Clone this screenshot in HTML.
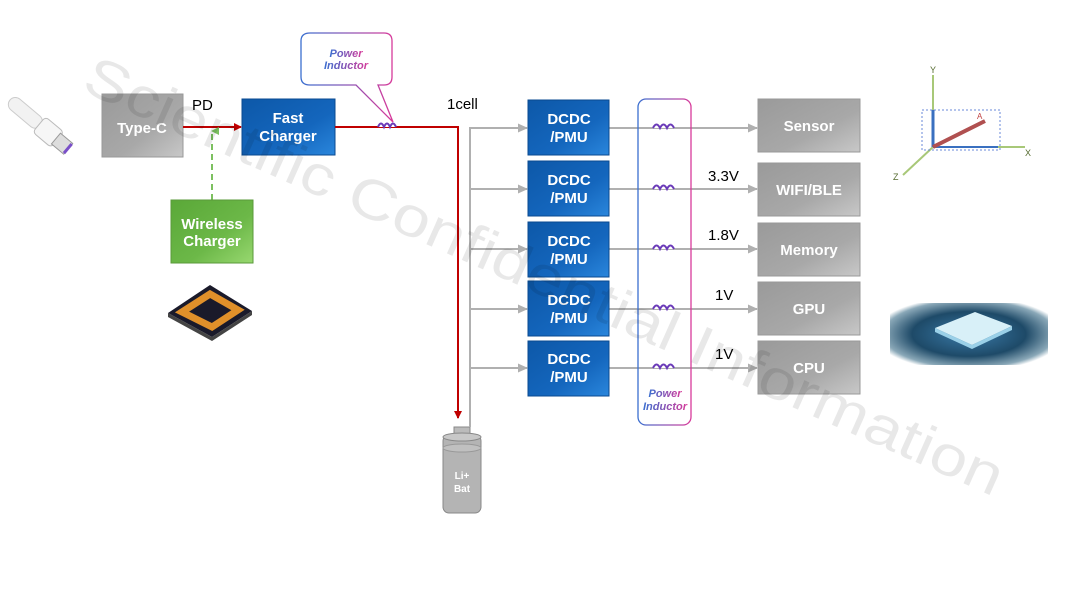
<!DOCTYPE html>
<html><head><meta charset="utf-8"><style>
body{margin:0;width:1080px;height:595px;background:#fff;overflow:hidden}
</style></head><body>
<svg width="1080" height="595" viewBox="0 0 1080 595" xmlns="http://www.w3.org/2000/svg" font-family="Liberation Sans, sans-serif">
<defs>
<linearGradient id="gb" x1="0" y1="0" x2="1" y2="1"><stop offset="0" stop-color="#0d58a8"/><stop offset="0.6" stop-color="#1466bd"/><stop offset="1" stop-color="#2a86dc"/></linearGradient>
<linearGradient id="gg" x1="0" y1="0" x2="1" y2="1"><stop offset="0" stop-color="#9a9a9a"/><stop offset="0.6" stop-color="#a8a8a8"/><stop offset="1" stop-color="#c8c8c8"/></linearGradient>
<linearGradient id="gn" x1="0" y1="0" x2="1" y2="1"><stop offset="0" stop-color="#5aa838"/><stop offset="0.6" stop-color="#6cb848"/><stop offset="1" stop-color="#98d870"/></linearGradient>
<linearGradient id="pi" x1="0" y1="0" x2="1" y2="0"><stop offset="0" stop-color="#3a6fd0"/><stop offset="1" stop-color="#d83a9a"/></linearGradient>
<radialGradient id="cpu" cx="0.5" cy="0.5" r="0.6"><stop offset="0" stop-color="#3a7aa8"/><stop offset="0.6" stop-color="#1e4a68"/><stop offset="0.9" stop-color="#8aa8b8"/><stop offset="1" stop-color="#fff"/></radialGradient>
<marker id="ar" markerWidth="8" markerHeight="8" refX="7" refY="4" orient="auto" markerUnits="userSpaceOnUse"><path d="M0,0L8,4L0,8z" fill="#c00000"/></marker>
<marker id="ag" markerWidth="10" markerHeight="9" refX="9" refY="4.5" orient="auto" markerUnits="userSpaceOnUse"><path d="M0,0L10,4.5L0,9z" fill="#b0b0b0"/></marker>
<marker id="an" markerWidth="8" markerHeight="8" refX="4" refY="1" orient="auto" markerUnits="userSpaceOnUse"><path d="M0,8L4,0L8,8z" fill="#7cc060"/></marker>
</defs>

<!-- USB cable -->
<g transform="translate(10,100) rotate(40)">
<rect x="0" y="-7" width="40" height="14" rx="7" fill="#f2f2f2" stroke="#ccc"/>
<rect x="38" y="-10" width="24" height="20" rx="4" fill="#f6f6f6" stroke="#bbb"/>
<rect x="60" y="-7" width="16" height="14" fill="#ddd" stroke="#999"/>
<rect x="74" y="-6" width="3" height="12" fill="#7a4fc8"/>
</g>

<!-- Type-C -->
<rect x="102" y="94" width="81" height="63" fill="url(#gg)" stroke="#999"/>
<text x="142" y="133" text-anchor="middle" fill="#fff" font-size="15" font-weight="bold">Type-C</text>
<text x="192" y="110" font-size="15">PD</text>

<line x1="183" y1="127" x2="241" y2="127" stroke="#c00000" stroke-width="2" marker-end="url(#ar)"/>
<line x1="212" y1="200" x2="212" y2="131" stroke="#7cc060" stroke-width="2" stroke-dasharray="6,4" marker-end="url(#an)"/>

<rect x="242" y="99" width="93" height="56" fill="url(#gb)" stroke="#0a4a90"/>
<text x="288" y="123" text-anchor="middle" fill="#fff" font-size="15" font-weight="bold">Fast</text>
<text x="288" y="141" text-anchor="middle" fill="#fff" font-size="15" font-weight="bold">Charger</text>

<rect x="171" y="200" width="82" height="63" fill="url(#gn)" stroke="#5a9a3a"/>
<text x="212" y="229" text-anchor="middle" fill="#fff" font-size="15" font-weight="bold">Wireless</text>
<text x="212" y="246" text-anchor="middle" fill="#fff" font-size="15" font-weight="bold">Charger</text>

<!-- wireless coil -->
<g transform="translate(210,305)">
<path d="M-42,8 L0,-20 L42,6 L2,32 Z" fill="#1a1a2a"/>
<path d="M-42,8 L2,32 L42,6 L42,10 L2,36 L-42,12Z" fill="#444"/>
<path d="M-28,7 L0,-11 L28,5 L2,22 Z" fill="none" stroke="#e0902a" stroke-width="7"/>
<path d="M-14,7 L0,-2 L14,5 L2,12 Z" fill="#1a1a2a"/>
</g>

<!-- red path -->
<path d="M335,127 H458 V418" fill="none" stroke="#c00000" stroke-width="2" marker-end="url(#ar)"/>
<path d="M378,127 q3,-7 6,0 q3,-7 6,0 q3,-7 6,0" fill="#fff" stroke="#6a3ab8" stroke-width="2"/>
<!-- callout -->
<path d="M310,33 H384 Q392,33 392,41 V77 Q392,85 384,85 H378 L393,122 L356,85 H310 Q301,85 301,77 V41 Q301,33 310,33Z" fill="#fff" stroke="url(#pi)" stroke-width="1.3"/>
<text x="346" y="57" text-anchor="middle" font-size="11" font-weight="bold" font-style="italic" fill="url(#pi)">Power</text>
<text x="346" y="69" text-anchor="middle" font-size="11" font-weight="bold" font-style="italic" fill="url(#pi)">Inductor</text>
<text x="447" y="109" font-size="15">1cell</text>

<!-- battery -->
<rect x="454" y="427" width="16" height="10" fill="#bbb" stroke="#888"/>
<rect x="443" y="435" width="38" height="78" rx="6" fill="#b4b4b4" stroke="#888"/>
<ellipse cx="462" cy="437" rx="19" ry="4" fill="#c8c8c8" stroke="#888"/>
<ellipse cx="462" cy="448" rx="19" ry="4" fill="#c0c0c0" stroke="#999"/>
<text x="462" y="479" text-anchor="middle" fill="#fff" font-size="10" font-weight="bold">Li+</text>
<text x="462" y="492" text-anchor="middle" fill="#fff" font-size="10" font-weight="bold">Bat</text>

<!-- gray bus -->
<line x1="470" y1="127" x2="470" y2="427" stroke="#b0b0b0" stroke-width="2"/>
<g stroke="#b0b0b0" stroke-width="2" fill="none">
<path d="M469,128 H527" marker-end="url(#ag)"/>
<path d="M469,189 H527" marker-end="url(#ag)"/>
<path d="M469,249 H527" marker-end="url(#ag)"/>
<path d="M469,309 H527" marker-end="url(#ag)"/>
<path d="M469,368 H527" marker-end="url(#ag)"/>
<path d="M609,128 H757" marker-end="url(#ag)"/>
<path d="M609,189 H757" marker-end="url(#ag)"/>
<path d="M609,249 H757" marker-end="url(#ag)"/>
<path d="M609,309 H757" marker-end="url(#ag)"/>
<path d="M609,368 H757" marker-end="url(#ag)"/>
</g>

<!-- DCDC -->
<g font-size="15" font-weight="bold" fill="#fff" text-anchor="middle">
<rect x="528" y="100" width="81" height="55" fill="url(#gb)" stroke="#0a4a90"/><text x="569" y="124">DCDC</text><text x="569" y="142">/PMU</text>
<rect x="528" y="161" width="81" height="55" fill="url(#gb)" stroke="#0a4a90"/><text x="569" y="185">DCDC</text><text x="569" y="203">/PMU</text>
<rect x="528" y="222" width="81" height="55" fill="url(#gb)" stroke="#0a4a90"/><text x="569" y="246">DCDC</text><text x="569" y="264">/PMU</text>
<rect x="528" y="281" width="81" height="55" fill="url(#gb)" stroke="#0a4a90"/><text x="569" y="305">DCDC</text><text x="569" y="323">/PMU</text>
<rect x="528" y="341" width="81" height="55" fill="url(#gb)" stroke="#0a4a90"/><text x="569" y="364">DCDC</text><text x="569" y="382">/PMU</text>
</g>

<!-- inductor bank -->
<rect x="638" y="99" width="53" height="326" rx="8" fill="none" stroke="url(#pi)" stroke-width="1.3"/>
<g stroke="#6a3ab8" stroke-width="2" fill="#fff">
<path d="M653,128 q3.5,-7 7,0 q3.5,-7 7,0 q3.5,-7 7,0"/>
<path d="M653,189 q3.5,-7 7,0 q3.5,-7 7,0 q3.5,-7 7,0"/>
<path d="M653,249 q3.5,-7 7,0 q3.5,-7 7,0 q3.5,-7 7,0"/>
<path d="M653,309 q3.5,-7 7,0 q3.5,-7 7,0 q3.5,-7 7,0"/>
<path d="M653,368 q3.5,-7 7,0 q3.5,-7 7,0 q3.5,-7 7,0"/>
</g>
<text x="665" y="397" text-anchor="middle" font-size="11" font-weight="bold" font-style="italic" fill="url(#pi)">Power</text>
<text x="665" y="410" text-anchor="middle" font-size="11" font-weight="bold" font-style="italic" fill="url(#pi)">Inductor</text>

<g font-size="15">
<text x="708" y="181">3.3V</text><text x="708" y="240">1.8V</text><text x="715" y="300">1V</text><text x="715" y="359">1V</text>
</g>

<!-- outputs -->
<g font-size="15" font-weight="bold" fill="#fff" text-anchor="middle">
<rect x="758" y="99" width="102" height="53" fill="url(#gg)" stroke="#999"/><text x="809" y="131">Sensor</text>
<rect x="758" y="163" width="102" height="53" fill="url(#gg)" stroke="#999"/><text x="809" y="195">WIFI/BLE</text>
<rect x="758" y="223" width="102" height="53" fill="url(#gg)" stroke="#999"/><text x="809" y="255">Memory</text>
<rect x="758" y="282" width="102" height="53" fill="url(#gg)" stroke="#999"/><text x="809" y="314">GPU</text>
<rect x="758" y="341" width="102" height="53" fill="url(#gg)" stroke="#999"/><text x="809" y="373">CPU</text>
</g>

<!-- axes -->
<g>
<line x1="933" y1="147" x2="933" y2="75" stroke="#a8c878" stroke-width="2"/>
<line x1="933" y1="147" x2="1025" y2="147" stroke="#a8c878" stroke-width="2"/>
<line x1="933" y1="147" x2="903" y2="175" stroke="#a8c878" stroke-width="2"/>
<rect x="922" y="110" width="78" height="40" fill="none" stroke="#6a8ad8" stroke-dasharray="2,2"/>
<line x1="933" y1="147" x2="933" y2="110" stroke="#3a70c0" stroke-width="3"/>
<line x1="933" y1="147" x2="998" y2="147" stroke="#3a70c0" stroke-width="2"/>
<line x1="933" y1="147" x2="985" y2="121" stroke="#b05050" stroke-width="4"/>
<text x="930" y="73" font-size="9" fill="#556b2f">Y</text>
<text x="1025" y="156" font-size="9" fill="#556b2f">X</text>
<text x="893" y="180" font-size="9" fill="#556b2f">Z</text>
<text x="977" y="119" font-size="8" fill="#c04040">A</text>
</g>

<!-- CPU image -->
<rect x="890" y="303" width="158" height="62" fill="url(#cpu)"/>
<path d="M935,328 L975,312 L1012,326 L972,345 Z" fill="#d8f0f8"/>
<path d="M935,328 L972,345 L1012,326 L1012,330 L972,349 L935,332Z" fill="#9ad0e8"/>

<!-- watermark -->
<text x="80" y="90" font-size="56" fill="#000" fill-opacity="0.09" transform="rotate(24 80 90)" textLength="1000" lengthAdjust="spacingAndGlyphs">Scientific Confidential Information</text>
</svg>
</body></html>
